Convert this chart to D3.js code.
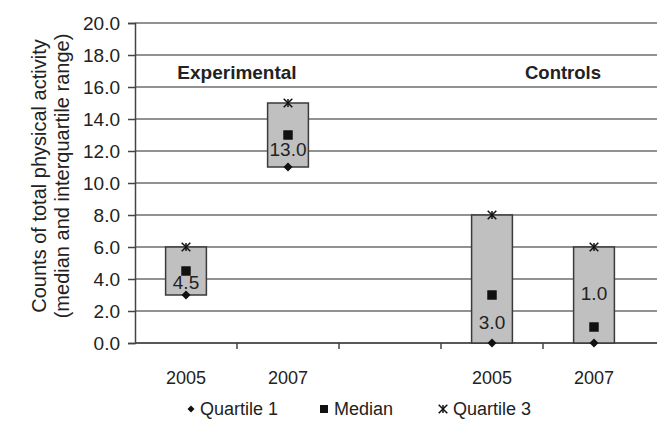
<!DOCTYPE html>
<html>
<head>
<meta charset="utf-8">
<script src="https://cdn.jsdelivr.net/npm/d3@7"></script>
<style>
  body { margin: 0; background: #fff; }
  text { font-family: "Liberation Sans", Arial, sans-serif; fill: #222; }
</style>
</head>
<body>
<div id="chart"></div>
<script>
// categories (the middle slot is an empty spacer between the two groups)
var categories = ["E2005", "E2007", "gap", "C2005", "C2007"];
var tickLabels = ["2005", "2007", "", "2005", "2007"];
var quartile1 = [3, 11, null, 0, 0];
var medians = [4.5, 13, null, 3, 1];
var quartile3 = [6, 15, null, 8, 6];
// where each median label sits (in chart units)
var labelAt = [3.8, 12.1, null, 1.3, 3.1];
var groups = ["Experimental", "Controls"];
var yTicks = [0, 2, 4, 6, 8, 10, 12, 14, 16, 18, 20];

var W = 657, H = 429;
var margin = {top: 23, right: 12, bottom: 86, left: 135};

var svg = d3.select("#chart").append("svg")
    .attr("width", W)
    .attr("height", H);

var x = d3.scaleBand()
    .domain(categories)
    .range([margin.left, 645])
    .paddingInner(0)
    .paddingOuter(0);

var y = d3.scaleLinear()
    .domain([0, 20])
    .range([H - margin.bottom, margin.top]);

// gridlines
svg.append("g").selectAll("line")
    .data(yTicks)
    .enter().append("line")
      .attr("x1", margin.left)
      .attr("x2", W)
      .attr("y1", function(d) { return y(d); })
      .attr("y2", function(d) { return y(d); })
      .attr("stroke", "#6e6e6e")
      .attr("stroke-width", 1.5);

// y axis
var yAxis = svg.append("g")
    .attr("transform", "translate(" + margin.left + ",0)")
    .call(d3.axisLeft(y).tickValues(yTicks).tickSize(7).tickPadding(8)
        .tickFormat(d3.format(".1f")));
yAxis.select(".domain").attr("stroke", "#444").attr("stroke-width", 1.5);
yAxis.selectAll(".tick line").attr("stroke", "#444").attr("stroke-width", 1.5);
yAxis.selectAll("text").style("font-size", "19px").attr("fill", "#222");

// x axis: ticks between categories
var xAxisY = y(0);
svg.append("line")
    .attr("x1", margin.left).attr("x2", W)
    .attr("y1", xAxisY).attr("y2", xAxisY)
    .attr("stroke", "#444").attr("stroke-width", 1.5);
svg.append("g").selectAll("line")
    .data(categories.slice(1))
    .enter().append("line")
      .attr("x1", function(d) { return x(d); })
      .attr("x2", function(d) { return x(d); })
      .attr("y1", xAxisY)
      .attr("y2", xAxisY + 6)
      .attr("stroke", "#444").attr("stroke-width", 1.5);
svg.append("g").selectAll("text")
    .data(categories)
    .enter().append("text")
      .attr("x", function(d) { return x(d) + x.bandwidth() / 2; })
      .attr("y", xAxisY + 41)
      .attr("text-anchor", "middle")
      .style("font-size", "18px")
      .text(function(d, i) { return tickLabels[i]; });

var idx = d3.range(categories.length).filter(function(i) { return quartile1[i] !== null; });
var boxW = x.bandwidth() * 0.4;

// interquartile boxes
svg.append("g").selectAll("rect")
    .data(idx)
    .enter().append("rect")
      .attr("x", function(i) { return x(categories[i]) + (x.bandwidth() - boxW) / 2; })
      .attr("y", function(i) { return y(quartile3[i]); })
      .attr("width", boxW)
      .attr("height", function(i) { return y(quartile1[i]) - y(quartile3[i]); })
      .attr("fill", "#c0c0c0")
      .attr("stroke", "#3a3a3a")
      .attr("stroke-width", 1.5);

function cx(i) { return x(categories[i]) + x.bandwidth() / 2; }

// median labels
svg.append("g").selectAll("text")
    .data(idx)
    .enter().append("text")
      .attr("x", cx)
      .attr("y", function(i) { return y(labelAt[i]); })
      .attr("dy", "0.35em")
      .attr("text-anchor", "middle")
      .style("font-size", "19px")
      .text(function(i) { return d3.format(".1f")(medians[i]); });

// a rhombus like the spreadsheet marker
var diamond = "M0,-4.5L4.5,0L0,4.5L-4.5,0Z";
var square = d3.symbol().type(d3.symbolSquare).size(90);
var star = d3.symbol().type(d3.symbolX).size(50);

function drawStar(g) {
  g.append("path").attr("d", star).attr("fill", "none")
      .attr("stroke", "#111").attr("stroke-width", 1.5);
  g.append("line").attr("x1", 0).attr("x2", 0).attr("y1", -4).attr("y2", 4)
      .attr("stroke", "#111").attr("stroke-width", 1.5);
}

// quartile 1 markers
svg.append("g").selectAll("path")
    .data(idx)
    .enter().append("path")
      .attr("transform", function(i) { return "translate(" + cx(i) + "," + y(quartile1[i]) + ")"; })
      .attr("d", diamond)
      .attr("fill", "#111");

// median markers
svg.append("g").selectAll("path")
    .data(idx)
    .enter().append("path")
      .attr("transform", function(i) { return "translate(" + cx(i) + "," + y(medians[i]) + ")"; })
      .attr("d", square)
      .attr("fill", "#111");

// quartile 3 markers
svg.append("g").selectAll("g")
    .data(idx)
    .enter().append("g")
      .attr("transform", function(i) { return "translate(" + cx(i) + "," + y(quartile3[i]) + ")"; })
      .each(function() { drawStar(d3.select(this)); });

// group labels
svg.append("text")
    .attr("x", x("E2007"))
    .attr("y", y(16.9))
    .attr("dy", "0.35em")
    .attr("text-anchor", "middle")
    .style("font-size", "19px")
    .style("font-weight", "bold")
    .text(groups[0]);
svg.append("text")
    .attr("x", x("C2007") + 20)
    .attr("y", y(16.9))
    .attr("dy", "0.35em")
    .attr("text-anchor", "middle")
    .style("font-size", "18.5px")
    .style("font-weight", "bold")
    .text(groups[1]);

// y axis title
var yTitle = svg.append("text")
    .attr("transform", "translate(39," + ((y(0) + y(20)) / 2 - 7) + ") rotate(-90)")
    .attr("text-anchor", "middle")
    .style("font-size", "20px");
yTitle.append("tspan").attr("x", 0).attr("dy", "0.35em").text("Counts of total physical activity");
yTitle.append("tspan").attr("x", 0).attr("dy", "1.15em").text("(median and interquartile range)");

// legend
var legendY = 409;
var leg = svg.append("g");
var l1 = leg.append("g").attr("transform", "translate(191," + legendY + ")");
l1.append("path").attr("d", "M0,-3.5L3.5,0L0,3.5L-3.5,0Z").attr("fill", "#111");
l1.append("text").attr("x", 9).attr("dy", "0.35em").style("font-size", "18px").text("Quartile 1");
var l2 = leg.append("g").attr("transform", "translate(324," + legendY + ")");
l2.append("path").attr("d", d3.symbol().type(d3.symbolSquare).size(64)).attr("fill", "#111");
l2.append("text").attr("x", 10).attr("dy", "0.35em").style("font-size", "18px").text("Median");
var l3 = leg.append("g").attr("transform", "translate(443," + legendY + ")");
drawStar(l3);
l3.append("text").attr("x", 10).attr("dy", "0.35em").style("font-size", "18px").text("Quartile 3");
</script>
</body>
</html>
